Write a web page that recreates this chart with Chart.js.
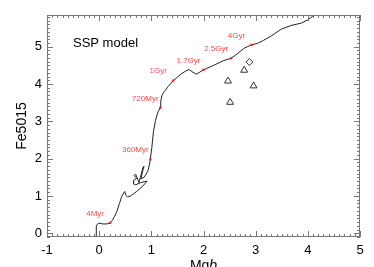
<!DOCTYPE html>
<html>
<head>
<meta charset="utf-8">
<script src="https://cdn.jsdelivr.net/npm/chart.js@4"></script>
<style>
  html, body { margin: 0; padding: 0; background: #fff; }
  #wrap { width: 374px; height: 267px; }
</style>
</head>
<body>
<div id="wrap"><canvas id="sspChart" width="374" height="267"></canvas></div>
<script>
// SSP model track in the Mgb / Fe5015 plane
const curveX = [-0.06, -0.06, -0.05, -0.03, 0.00, 0.07, 0.15, 0.21, 0.25, 0.29, 0.33, 0.39, 0.43, 0.47, 0.49,
  0.51, 0.54, 0.60, 0.71, 0.84, 0.92, 0.80, 0.70, 0.65, 0.66, 0.72, 0.67, 0.70, 0.74, 0.76, 0.79, 0.84,
  0.86, 0.84, 0.80, 0.86, 0.93, 0.97, 0.98, 1.01, 1.04, 1.08, 1.13, 1.17, 1.18, 1.21, 1.25, 1.32, 1.42,
  1.57, 1.65, 1.72, 1.86, 2.00, 2.21, 2.37, 2.53, 2.62, 2.78, 2.92, 3.04, 3.15, 3.30, 3.49, 3.68, 3.87,
  4.00, 4.12];
const curveY = [-0.10, 0.10, 0.20, 0.25, 0.27, 0.25, 0.25, 0.28, 0.34, 0.44, 0.55, 0.80, 0.98, 1.08, 1.12,
  1.02, 0.98, 1.00, 1.11, 1.27, 1.40, 1.36, 1.30, 1.33, 1.42, 1.47, 1.55, 1.58, 1.45, 1.36, 1.50, 1.76,
  1.80, 1.70, 1.46, 1.50, 1.65, 1.88, 1.98, 2.30, 2.72, 3.03, 3.26, 3.36, 3.55, 3.72, 3.80, 3.93, 4.09,
  4.27, 4.34, 4.39, 4.26, 4.38, 4.51, 4.62, 4.69, 4.78, 4.96, 5.05, 5.09, 5.17, 5.29, 5.47, 5.57, 5.63,
  5.72, 5.85];

// ages marked along the track
const ageLabels = ['4Myr', '360Myr', '720Myr', '1Gyr', '1.7Gyr', '2.5Gyr', '4Gyr'];
const ageX = [0.21, 0.98, 1.17, 1.42, 2.00, 2.53, 2.92];
const ageY = [0.28, 1.98, 3.36, 4.09, 4.38, 4.69, 5.05];

// observed points
const triX = [2.78, 2.47, 2.96, 2.51];
const triY = [4.37, 4.08, 3.95, 3.51];
const diaX = [2.88];
const diaY = [4.59];

const xTicks = [-1, 0, 1, 2, 3, 4, 5];
const yTicks = [0, 1, 2, 3, 4, 5];
const xMin = -1, xMax = 5, yMin = -0.1, yMax = 5.85;
const minorStep = 0.1;

const toPoints = (xs, ys) => xs.map((x, i) => ({ x: x, y: ys[i] }));

const frameColor = '#777';
const font = "'Liberation Sans', Arial, sans-serif";

const idlFrame = {
    id: 'idlFrame',
    afterDraw(chart) {
        const ctx = chart.ctx;
        const a = chart.chartArea;
        const xs = chart.scales.x, ys = chart.scales.y;
        ctx.save();
        ctx.strokeStyle = frameColor;
        ctx.lineWidth = 1;
        ctx.strokeRect(a.left + 0.5, a.top + 0.5, a.right - a.left - 1, a.bottom - a.top - 1);
        ctx.beginPath();
        // minor + major ticks along x (bottom and top)
        for (let v = Math.ceil(xMin / minorStep) * minorStep; v <= xMax + 1e-6; v += minorStep) {
            const px = Math.round(xs.getPixelForValue(v)) + 0.5;
            const major = Math.abs(v - Math.round(v)) < 1e-6;
            const len = major ? 6 : 3;
            ctx.moveTo(px, a.bottom); ctx.lineTo(px, a.bottom - len);
            ctx.moveTo(px, a.top); ctx.lineTo(px, a.top + len);
        }
        // minor + major ticks along y (left and right)
        for (let v = Math.ceil(yMin / minorStep) * minorStep; v <= yMax + 1e-6; v += minorStep) {
            const py = Math.round(ys.getPixelForValue(v)) + 0.5;
            const major = Math.abs(v - Math.round(v)) < 1e-6;
            const len = major ? 6 : 3;
            ctx.moveTo(a.left, py); ctx.lineTo(a.left + len, py);
            ctx.moveTo(a.right, py); ctx.lineTo(a.right - len, py);
        }
        ctx.stroke();

        // age labels
        ctx.fillStyle = '#ff4a4a';
        ctx.font = '8px ' + font;
        ctx.textAlign = 'center';
        ctx.textBaseline = 'middle';
        ageLabels.forEach((t, i) => {
            ctx.fillText(t, xs.getPixelForValue(ageX[i]) - 15, ys.getPixelForValue(ageY[i]) - 9.5);
        });

        // annotation
        ctx.fillStyle = '#000';
        ctx.font = '13px ' + font;
        ctx.textAlign = 'left';
        ctx.fillText('SSP model', a.left + 26, a.top + 28);

        // axis titles
        ctx.font = '14px ' + font;
        ctx.save();
        ctx.translate(22, (a.top + a.bottom) / 2);
        ctx.rotate(-Math.PI / 2);
        ctx.textAlign = 'center';
        ctx.fillText('Fe5015', 0, 0);
        ctx.restore();

        ctx.textBaseline = 'top';
        const cx = xs.getPixelForValue(2);
        const w1 = ctx.measureText('Mg').width;
        ctx.font = 'italic 14px ' + font;
        const w2 = ctx.measureText('b').width;
        ctx.font = '14px ' + font;
        ctx.textAlign = 'left';
        ctx.fillText('Mg', cx - (w1 + w2) / 2, 259);
        ctx.font = 'italic 14px ' + font;
        ctx.fillText('b', cx - (w1 + w2) / 2 + w1, 259);
        ctx.restore();
    }
};

new Chart(document.getElementById('sspChart').getContext('2d'), {
    type: 'scatter',
    data: {
        datasets: [
            {
                label: 'SSP model',
                data: toPoints(curveX, curveY),
                showLine: true,
                borderColor: '#222',
                borderWidth: 1,
                pointRadius: 0,
                tension: 0,
                order: 3
            },
            {
                label: 'ages',
                data: toPoints(ageX, ageY),
                pointStyle: 'rect',
                pointRadius: 1.6,
                backgroundColor: '#ff2020',
                borderColor: '#ff2020',
                borderWidth: 0,
                order: 1
            },
            {
                label: 'triangles',
                data: toPoints(triX, triY),
                pointStyle: 'triangle',
                pointRadius: 4,
                backgroundColor: 'rgba(0,0,0,0)',
                borderColor: '#333',
                borderWidth: 1,
                order: 2
            },
            {
                label: 'diamond',
                data: toPoints(diaX, diaY),
                pointStyle: 'rectRot',
                pointRadius: 3.5,
                backgroundColor: 'rgba(0,0,0,0)',
                borderColor: '#333',
                borderWidth: 1,
                order: 2
            }
        ]
    },
    options: {
        responsive: false,
        animation: false,
        layout: { padding: { left: 0, top: 15, right: 14, bottom: 0 } },
        plugins: { legend: { display: false }, tooltip: { enabled: false } },
        scales: {
            x: {
                type: 'linear',
                min: xMin, max: xMax,
                afterBuildTicks: s => { s.ticks = xTicks.map(v => ({ value: v })); },
                afterFit: s => { s.height = 30; },
                grid: { display: false, drawTicks: false },
                border: { display: false },
                ticks: { color: '#000', padding: 6, maxRotation: 0, font: { family: font, size: 13 } }
            },
            y: {
                type: 'linear',
                min: yMin, max: yMax,
                afterBuildTicks: s => { s.ticks = yTicks.map(v => ({ value: v })); },
                afterFit: s => { s.width = 47; },
                grid: { display: false, drawTicks: false },
                border: { display: false },
                ticks: { color: '#000', padding: 5, font: { family: font, size: 13 } }
            }
        }
    },
    plugins: [idlFrame]
});
</script>
</body>
</html>
